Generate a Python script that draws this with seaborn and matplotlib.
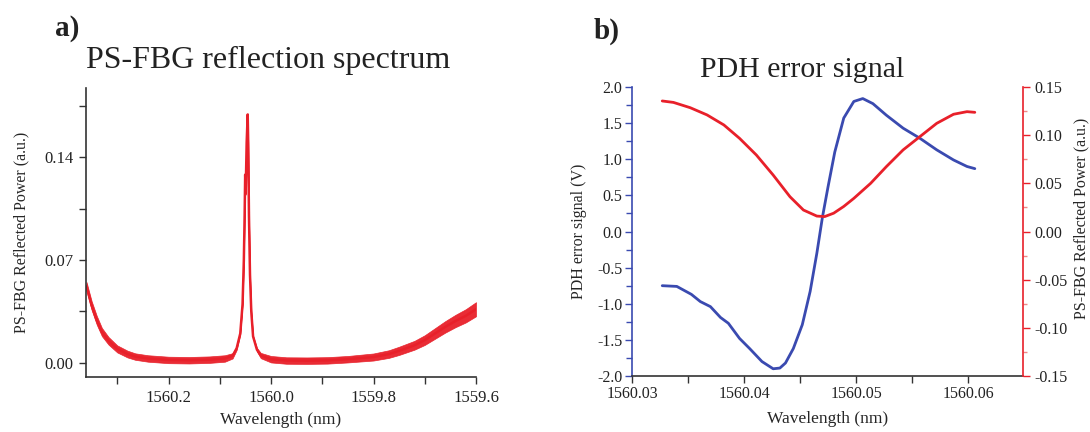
import numpy as np
import pandas as pd
import matplotlib
matplotlib.use("Agg")
import matplotlib.pyplot as plt
from matplotlib.ticker import MultipleLocator, FormatStrFormatter
import seaborn as sns

# ---------------- Panel a: PS-FBG reflection spectrum ----------------
spec_wl = [1560.360, 1560.350, 1560.340, 1560.330, 1560.317, 1560.300, 1560.280,
           1560.265, 1560.240, 1560.200, 1560.160, 1560.120, 1560.090, 1560.075,
           1560.067, 1560.060, 1560.0555, 1560.053, 1560.0515, 1560.0504, 1560.0495,
           1560.0475, 1560.0455, 1560.0445, 1560.043, 1560.041, 1560.0385, 1560.035,
           1560.0275, 1560.020, 1560.000, 1559.970, 1559.930, 1559.890, 1559.850,
           1559.800, 1559.770, 1559.750, 1559.720, 1559.700, 1559.680, 1559.660,
           1559.640, 1559.620, 1559.600]
spec_center = [0.052, 0.039, 0.029, 0.021, 0.015, 0.0095, 0.006,
               0.0043, 0.003, 0.002, 0.0018, 0.0022, 0.003, 0.0048,
               0.010, 0.020, 0.040, 0.070, 0.100, 0.128, 0.115,
               0.150, 0.169, 0.150, 0.100, 0.060, 0.035, 0.018,
               0.009, 0.005, 0.0025, 0.0016, 0.0015, 0.0017, 0.0025,
               0.004, 0.006, 0.0082, 0.012, 0.0155, 0.020, 0.0245,
               0.0285, 0.032, 0.0365]
# half thickness of the noisy band
spec_noise = [0.0030, 0.0030, 0.0030, 0.0028, 0.0026, 0.0024, 0.0023,
              0.0022, 0.0022, 0.0022, 0.0022, 0.0022, 0.0022, 0.0018,
              0.0012, 0.0009, 0.0006, 0.0006, 0.0006, 0.0006, 0.0006,
              0.0006, 0.0006, 0.0006, 0.0006, 0.0006, 0.0006, 0.0006,
              0.0012, 0.0018, 0.0022, 0.0022, 0.0022, 0.0022, 0.0022,
              0.0024, 0.0026, 0.0028, 0.0030, 0.0033, 0.0036, 0.0039,
              0.0042, 0.0045, 0.0048]
a_xticks = [1560.2, 1560.0, 1559.8, 1559.6]
a_yticks = [0.00, 0.07, 0.14]

# ---------------- Panel b: PDH error signal ----------------
pdh_wl = [1560.0327, 1560.0340, 1560.0353, 1560.0361, 1560.0370, 1560.0379,
          1560.0386, 1560.0396, 1560.0405, 1560.0416, 1560.0426, 1560.0432,
          1560.0437, 1560.0444, 1560.0452, 1560.0459, 1560.0465, 1560.0470,
          1560.0475, 1560.0481, 1560.0489, 1560.0498, 1560.0506, 1560.0515,
          1560.0527, 1560.0542, 1560.0557, 1560.0572, 1560.0587, 1560.0599,
          1560.0606]
pdh_v = [-0.75, -0.76, -0.87, -0.97, -1.04, -1.19,
         -1.27, -1.48, -1.62, -1.80, -1.90, -1.89,
         -1.82, -1.62, -1.29, -0.83, -0.30, 0.20,
         0.62, 1.10, 1.57, 1.80, 1.84, 1.77,
         1.61, 1.43, 1.29, 1.13, 0.99, 0.90,
         0.87]
refl_wl = [1560.0327, 1560.0337, 1560.0352, 1560.0367, 1560.0382, 1560.0396,
           1560.0411, 1560.0426, 1560.0441, 1560.0453, 1560.0465, 1560.0472,
           1560.0480, 1560.0489, 1560.0498, 1560.0513, 1560.0527, 1560.0542,
           1560.0557, 1560.0572, 1560.0587, 1560.0599, 1560.0606]
refl_v = [0.1355, 0.1340, 0.1285, 0.1210, 0.1106, 0.0967,
          0.0794, 0.0586, 0.0361, 0.0223, 0.0160, 0.0155,
          0.0190, 0.0260, 0.0344, 0.0500, 0.0673, 0.0847,
          0.0985, 0.1123, 0.1217, 0.1244, 0.1237]

RED = "#E8202A"
BLUE = "#3A4AB0"
DARK = "#333333"

sns.set_theme(style="ticks")
plt.rcParams['font.family'] = ['Liberation Serif', 'DejaVu Serif']
plt.rcParams['axes.unicode_minus'] = False
plt.rcParams['text.color'] = "#222222"

W, H = 1090, 432
fig = plt.figure(figsize=(W / 100, H / 100), dpi=100)

def box(l, t, r, b):
    return [l / W, 1 - b / H, (r - l) / W, (b - t) / H]

# ---------- panel a ----------
axA = fig.add_axes(box(86, 88, 476, 377))
dfA = pd.DataFrame({"wl": spec_wl, "p": spec_center, "n": spec_noise})
axA.fill_between(dfA["wl"], dfA["p"] - dfA["n"], dfA["p"] + dfA["n"],
                 color=RED, lw=0.5, alpha=0.95)
sns.lineplot(data=dfA, x="wl", y="p", ax=axA, color=RED, lw=1.8,
             sort=False, estimator=None)
axA.set_xlim(1560.361, 1559.6)
axA.set_ylim(-0.0096, 0.187)
axA.xaxis.set_major_locator(MultipleLocator(0.2))
axA.xaxis.set_minor_locator(MultipleLocator(0.1))
axA.set_xticks(a_xticks)
axA.yaxis.set_major_locator(MultipleLocator(0.07))
axA.yaxis.set_minor_locator(MultipleLocator(0.035))
axA.set_yticks(a_yticks)
axA.xaxis.set_major_formatter(FormatStrFormatter('%.1f'))
axA.yaxis.set_major_formatter(FormatStrFormatter('%.2f'))
for s in ["top", "right"]:
    axA.spines[s].set_visible(False)
for s in ["left", "bottom"]:
    axA.spines[s].set_color(DARK)
    axA.spines[s].set_linewidth(1.2)
axA.tick_params(which="both", direction="out", color=DARK, width=1.0,
                labelsize=12, labelcolor="#222222")
axA.tick_params(which="major", length=5, pad=4)
axA.tick_params(which="minor", length=5)
axA.set_xlabel("Wavelength (nm)", fontsize=12.5)
axA.set_ylabel("PS-FBG Reflected Power (a.u.)", fontsize=11.5)
axA.xaxis.set_label_coords(0.5, -0.12)
axA.yaxis.set_label_coords(-0.145, 0.5)

# ---------- panel b ----------
axB = fig.add_axes(box(632, 87, 1023, 376))
dfP = pd.DataFrame({"wl": pdh_wl, "v": pdh_v})
sns.lineplot(data=dfP, x="wl", y="v", ax=axB, color=BLUE, lw=2.0,
             sort=False, estimator=None)
axB.set_xlim(1560.03, 1560.0649)
axB.set_ylim(-2.0, 2.0)
axB.xaxis.set_major_locator(MultipleLocator(0.01))
axB.xaxis.set_minor_locator(MultipleLocator(0.005))
axB.xaxis.set_major_formatter(FormatStrFormatter('%.2f'))
axB.yaxis.set_major_locator(MultipleLocator(0.5))
axB.yaxis.set_minor_locator(MultipleLocator(0.25))
axB.yaxis.set_major_formatter(FormatStrFormatter('%.1f'))
for s in ["top", "right"]:
    axB.spines[s].set_visible(False)
axB.spines["left"].set_color(BLUE)
axB.spines["left"].set_linewidth(1.2)
axB.spines["bottom"].set_color(DARK)
axB.spines["bottom"].set_linewidth(1.2)
axB.tick_params(axis="y", which="both", direction="out", color=BLUE, width=1.0,
                labelsize=11.5, labelcolor="#222222")
axB.tick_params(axis="y", which="major", length=5, pad=2)
axB.tick_params(axis="y", which="minor", length=4)
axB.tick_params(axis="x", which="both", direction="out", color=DARK, width=1.0,
                labelsize=11.5, labelcolor="#222222", length=5, pad=2)
axB.set_xlabel("Wavelength (nm)", fontsize=12.5)
axB.set_ylabel("PDH error signal (V)", fontsize=11.5)
axB.xaxis.set_label_coords(0.5, -0.12)
axB.yaxis.set_label_coords(-0.115, 0.5)

axB2 = axB.twinx()
dfR = pd.DataFrame({"wl": refl_wl, "r": refl_v})
sns.lineplot(data=dfR, x="wl", y="r", ax=axB2, color=RED, lw=2.0,
             sort=False, estimator=None)
axB2.set_ylim(-0.15, 0.15)
axB2.yaxis.set_major_locator(MultipleLocator(0.05))
axB2.yaxis.set_minor_locator(MultipleLocator(0.025))
axB2.yaxis.set_major_formatter(FormatStrFormatter('%.2f'))
for s in ["top", "left", "bottom"]:
    axB2.spines[s].set_visible(False)
axB2.spines["right"].set_color(RED)
axB2.spines["right"].set_linewidth(1.2)
axB2.tick_params(axis="y", which="both", direction="out", color=RED, width=1.0,
                 labelsize=11.5, labelcolor="#222222")
axB2.tick_params(axis="y", which="major", length=5, pad=3)
axB2.tick_params(axis="y", which="minor", length=3, color="#E88")
axB2.set_ylabel("PS-FBG Reflected Power (a.u.)", fontsize=11.5)
axB2.yaxis.set_label_coords(1.13, 0.547)

# ---------- titles and panel letters ----------
fig.text(55 / W, 1 - 36 / H, "a)", fontsize=21, fontweight="bold", va="baseline", ha="left")
fig.text(594 / W, 1 - 39 / H, "b)", fontsize=21, fontweight="bold", va="baseline", ha="left")
fig.text(86 / W, 1 - 68 / H, "PS-FBG reflection spectrum", fontsize=23, va="baseline", ha="left")
fig.text(700 / W, 1 - 77 / H, "PDH error signal", fontsize=21.5, va="baseline", ha="left")

fig.savefig("out.png", dpi=100)
